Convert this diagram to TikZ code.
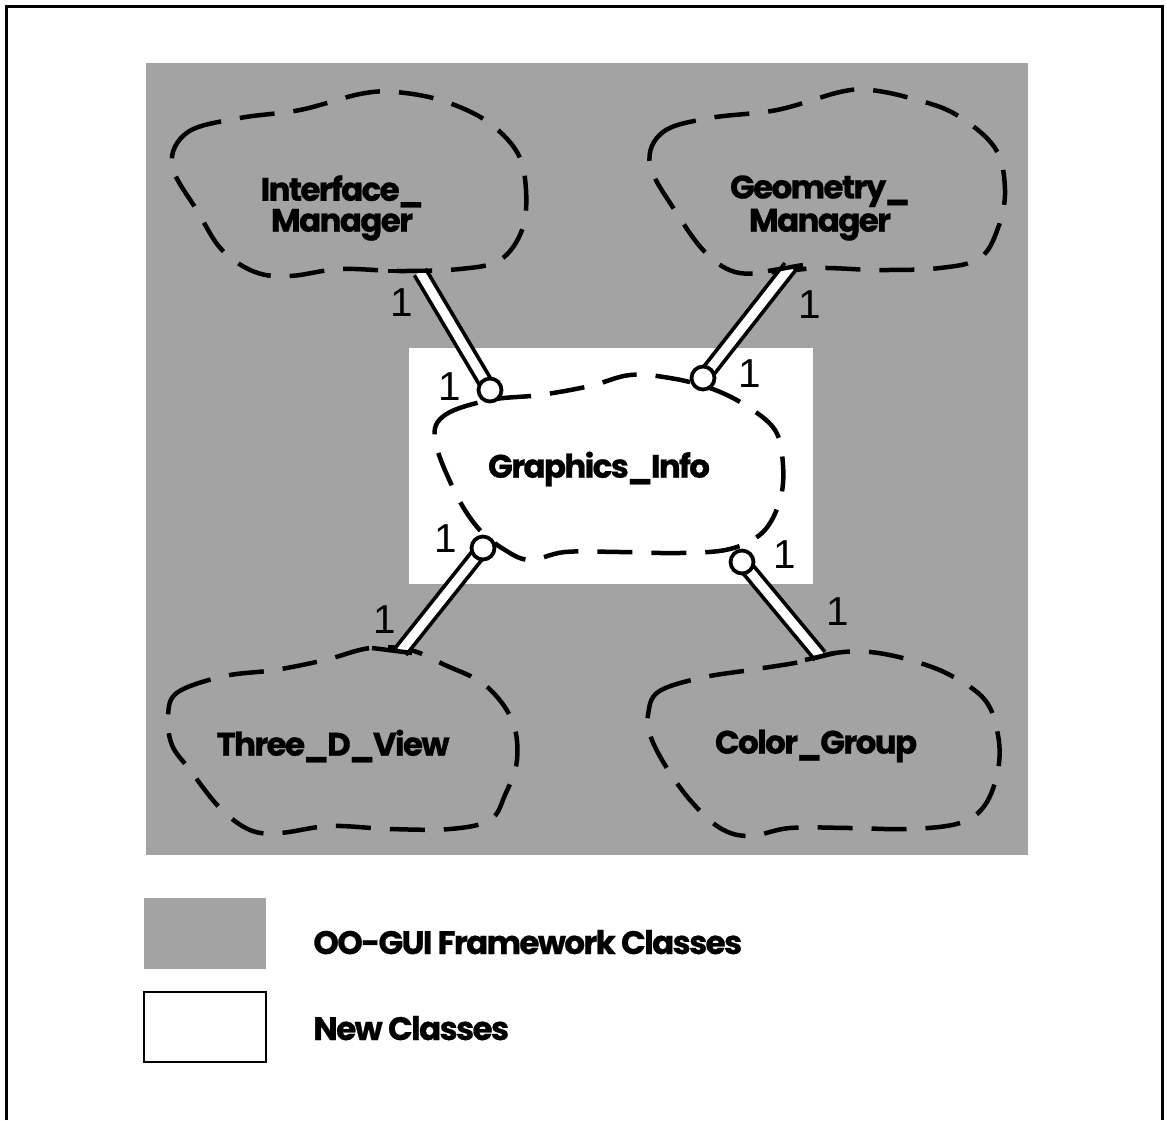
\documentclass[tikz,border=0pt]{standalone}
\usepackage{fontspec}
\setmainfont{Poppins}[BoldFeatures={FakeBold=0.8, LetterSpace=-5}]
\newfontfamily\digitfont{Liberation Sans}
\definecolor{fwgray}{gray}{0.64}
\begin{document}
\begin{tikzpicture}[x=0.02cm,y=-0.02cm,
  cloudline/.style={line width=0.09cm, dash pattern=on 0.7cm off 0.38cm},
  conn/.style={line width=0.075cm, double=white, double distance=0.18cm},
  capbar/.style={line width=0.09cm},
  port/.style={circle, draw, fill=white, line width=0.075cm, minimum size=0.46cm, inner sep=0pt},
  cls/.style={font=\bfseries\fontsize{18.5}{17.6}\selectfont, align=center, inner sep=0pt},
  mult/.style={font=\digitfont\fontsize{23}{23}\selectfont, inner sep=0pt},
  legend/.style={font=\bfseries\fontsize{18.5}{17.6}\selectfont, inner sep=0pt, anchor=base west}]
\useasboundingbox (0,0) rectangle (1167,1120);
\fill[white] (0,0) rectangle (1167,1120);

% page frame (open at the bottom)
\draw[line width=0.06cm] (6.5,1120) -- (6.5,6.5) -- (1162,6.5) -- (1162,1120);

% framework area and the new-class area
\fill[fwgray] (146,63) rectangle (1028,855);
\fill[white] (409,348) rectangle (813,584);

% class clouds
\draw[cloudline] plot[smooth cycle, tension=0.6] coordinates {
  (172,165) (188,132) (240,118) (300,110) (360,94) (395,92) (440,100) (485,120)
  (517,152) (526,190) (522,230) (500,260) (460,269) (400,271) (340,269) (290,276)
  (255,272) (222,250) (198,212)};
\draw[cloudline] plot[smooth cycle, tension=0.6] coordinates {
  (650,165) (663,132) (710,118) (777,110) (840,92) (870,90) (910,98) (955,114)
  (995,148) (1005,190) (998,228) (980,258) (940,268) (880,270) (820,268) (775,272)
  (735,272) (705,252) (678,215)};
\draw[cloudline] plot[smooth cycle, tension=0.6] coordinates {
  (435,440) (445,415) (490,400) (540,395) (590,386) (630,375) (670,378) (710,388)
  (745,405) (775,430) (783,465) (780,500) (763,532) (730,549) (680,553) (620,552)
  (565,552) (530,560) (505,550) (478,528) (455,492)};
\draw[cloudline] plot[smooth cycle, tension=0.6] coordinates {
  (168,715) (178,692) (225,676) (275,670) (325,660) (370,648) (410,650) (445,665)
  (485,685) (512,720) (517,760) (505,795) (490,820) (450,829) (390,829) (330,826)
  (280,833) (250,830) (220,808) (190,770) (172,745)};
\draw[cloudline] plot[smooth cycle, tension=0.6] coordinates {
  (648,715) (658,692) (700,678) (750,670) (800,662) (835,653) (870,652) (910,660)
  (950,675) (985,700) (998,735) (998,770) (985,805) (960,823) (910,829) (850,828)
  (790,828) (750,836) (720,828) (690,800) (665,765) (650,735)};

% class names
\node[cls] (im) at (342,208) {Interface\_\\Manager};
\node[cls] (gm) at (820,208) {Geometry\_\\Manager};
\node[cls] (gi) at (599,469) {Graphics\_Info};
\node[cls] (tdv) at (333,746) {Three\_D\_View};
\node[cls] (cg) at (816,746) {Color\_Group};

% connector end points on the outer clouds
\coordinate (imEnd) at (420,272);
\coordinate (gmEnd) at (790,267);
\coordinate (tdvEnd) at (401,651);
\coordinate (cgEnd) at (820,656);
% ports on the Graphics_Info cloud
\coordinate (imPort) at (490,390);
\coordinate (gmPort) at (703,378);
\coordinate (tdvPort) at (483,548);
\coordinate (cgPort) at (742,562);

% has-by-reference connectors
\draw[conn] (imEnd) -- (imPort);
\draw[conn] (gmEnd) -- (gmPort);
\draw[conn] (tdvEnd) -- (tdvPort);
\draw[conn] (cgEnd) -- (cgPort);

% closing bars where the connectors meet the outer clouds
\coordinate (imBarA) at (388,271); \coordinate (imBarB) at (431,271);
\coordinate (gmBarA) at (768,271); \coordinate (gmBarB) at (803,265);
\coordinate (tdvBarA) at (372,648); \coordinate (tdvBarB) at (412,653);
\coordinate (cgBarA) at (805,660); \coordinate (cgBarB) at (835,653);
\draw[capbar] (imBarA) -- (imBarB);
\draw[capbar] (gmBarA) -- (gmBarB);
\draw[capbar] (tdvBarA) -- (tdvBarB);
\draw[capbar] (cgBarA) -- (cgBarB);

% port circles
\node[port] (imC) at (imPort) {};
\node[port] (gmC) at (gmPort) {};
\node[port] (tdvC) at (tdvPort) {};
\node[port] (cgC) at (cgPort) {};

% multiplicities
\node[mult] (m1) at (402,303) {1};
\node[mult] (m2) at (450,387) {1};
\node[mult] (m3) at (810,305) {1};
\node[mult] (m4) at (750,374) {1};
\node[mult] (m5) at (446,539) {1};
\node[mult] (m6) at (385,620) {1};
\node[mult] (m7) at (785,555) {1};
\node[mult] (m8) at (838,612) {1};

% legend
\fill[fwgray] (144,898) rectangle (266,969);
\draw[line width=0.05cm] (144,992) rectangle (266,1062);
\node[legend] (lg1) at (313,954) {OO-GUI Framework Classes};
\node[legend] (lg2) at (313,1040) {New Classes};
\end{tikzpicture}
\end{document}
